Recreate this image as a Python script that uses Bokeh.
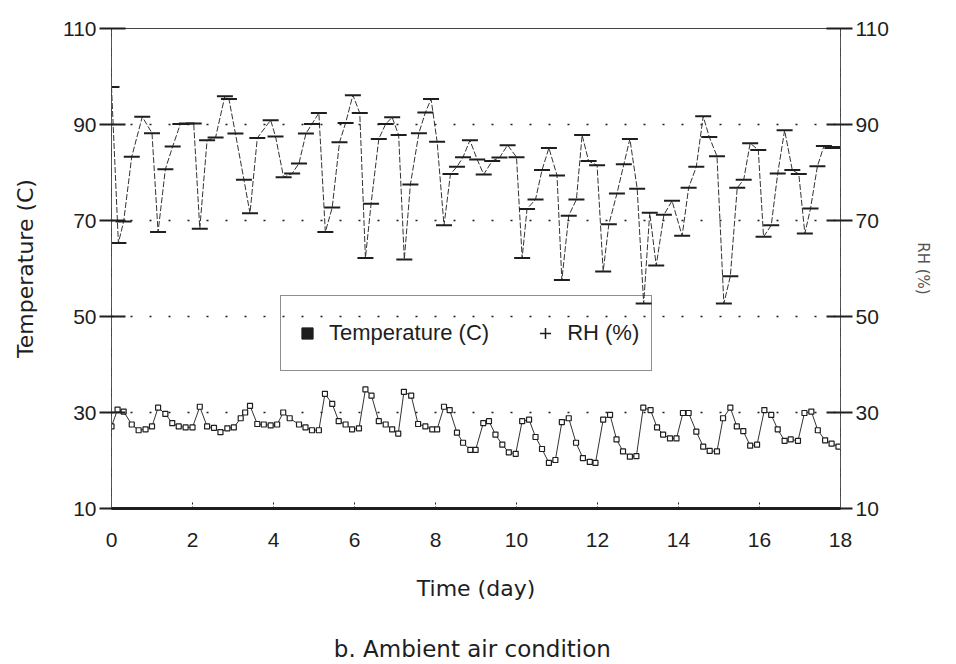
from bokeh.plotting import figure
from bokeh.models import LinearAxis, Range1d, Legend, LegendItem, FixedTicker
from bokeh.embed import file_html
from bokeh.resources import INLINE

# ---- data ----
x_ticks = [0, 2, 4, 6, 8, 10, 12, 14, 16, 18]
y_ticks = [10, 30, 50, 70, 90, 110]
grid_levels = [30, 50, 70, 90]

temp_day = [0.00, 0.15, 0.30, 0.50, 0.67, 0.84, 1.00, 1.15, 1.33, 1.50, 1.66, 1.83, 2.00,
            2.18, 2.36, 2.53, 2.69, 2.86, 3.02, 3.19, 3.30, 3.42, 3.60, 3.76, 3.93, 4.09,
            4.24, 4.40, 4.63, 4.79, 4.95, 5.12, 5.27, 5.45, 5.61, 5.78, 5.94, 6.11, 6.27,
            6.42, 6.60, 6.77, 6.93, 7.08, 7.22, 7.40, 7.57, 7.75, 7.92, 8.04, 8.21, 8.35,
            8.53, 8.68, 8.86, 8.99, 9.18, 9.32, 9.48, 9.65, 9.81, 9.98, 10.14, 10.31, 10.47,
            10.63, 10.80, 10.96, 11.12, 11.29, 11.47, 11.64, 11.81, 11.95, 12.14, 12.31,
            12.47, 12.63, 12.80, 12.96, 13.13, 13.31, 13.47, 13.62, 13.79, 13.95, 14.11,
            14.25, 14.44, 14.61, 14.77, 14.95, 15.10, 15.28, 15.44, 15.60, 15.77, 15.94,
            16.12, 16.29, 16.45, 16.62, 16.77, 16.95, 17.11, 17.28, 17.44, 17.62, 17.78, 17.95]
temp_val = [27.1, 30.6, 30.2, 27.5, 26.3, 26.5, 27.1, 31.0, 29.7, 27.8, 27.1, 26.9, 26.9,
            31.2, 27.1, 26.8, 25.9, 26.7, 26.9, 28.8, 30.0, 31.4, 27.6, 27.5, 27.3, 27.5,
            30.0, 28.8, 27.5, 26.9, 26.3, 26.3, 33.9, 31.8, 28.2, 27.5, 26.5, 26.7, 34.8,
            33.5, 28.2, 27.5, 26.5, 25.6, 34.3, 33.5, 27.6, 27.1, 26.5, 26.5, 31.2, 30.5,
            25.8, 23.7, 22.2, 22.2, 27.8, 28.2, 25.4, 23.3, 21.7, 21.4, 28.2, 28.5, 24.9,
            22.4, 19.5, 20.1, 28.0, 28.8, 23.7, 20.5, 19.7, 19.5, 28.5, 29.5,
            24.4, 21.9, 20.8, 20.9, 31.0, 30.5, 26.9, 25.4, 24.6, 24.6, 29.9,
            29.9, 26.0, 22.9, 22.0, 21.9, 28.8, 31.0, 27.1, 26.1, 23.1, 23.3,
            30.5, 29.5, 26.5, 24.1, 24.4, 24.1, 29.9, 30.2, 26.3, 24.2, 23.5, 22.9]

rh_day = [0.00, 0.17, 0.30, 0.50, 0.76, 1.00, 1.15, 1.33, 1.51, 1.70, 1.86, 2.03, 2.18,
          2.36, 2.57, 2.80, 2.90, 3.06, 3.27, 3.42, 3.60, 3.93, 4.05, 4.25, 4.46, 4.63,
          4.80, 4.95, 5.12, 5.28, 5.45, 5.63, 5.78, 5.96, 6.13, 6.27, 6.41, 6.60, 6.77,
          6.93, 7.09, 7.23, 7.38, 7.59, 7.75, 7.89, 8.04, 8.21, 8.37, 8.53, 8.68, 8.85,
          9.03, 9.19, 9.40, 9.58, 9.78, 10.00, 10.14, 10.26, 10.47, 10.63, 10.80, 11.00,
          11.12, 11.29, 11.48, 11.62, 11.78, 11.99, 12.14, 12.28, 12.48, 12.65, 12.80,
          12.98, 13.14, 13.29, 13.45, 13.64, 13.84, 14.09, 14.25, 14.44, 14.61, 14.76,
          14.95, 15.12, 15.28, 15.45, 15.61, 15.77, 15.97, 16.10, 16.29, 16.45, 16.62,
          16.81, 16.97, 17.12, 17.26, 17.43, 17.59, 17.80, 17.96]
rh_val = [97.8, 65.3, 69.8, 83.3, 91.6, 88.2, 67.6, 80.7, 85.4, 90.1, 90.2, 90.2, 68.3,
          86.7, 87.3, 95.9, 95.3, 88.1, 78.5, 71.5, 87.2, 90.9, 87.5, 79.0, 79.8, 81.9,
          88.1, 90.1, 92.4, 67.6, 72.7, 86.3, 90.3, 96.1, 92.4, 62.2, 73.5, 87.0, 90.1,
          91.5, 87.8, 61.9, 77.5, 88.2, 92.5, 95.3, 86.4, 69.0, 79.7, 81.2, 83.2, 86.7,
          82.7, 79.6, 82.4, 83.1, 85.7, 83.2, 62.2, 72.4, 74.4, 80.5, 85.1, 79.4,
          57.6, 71.0, 74.4, 87.8, 82.4, 81.5, 59.4, 69.2, 75.6, 81.7, 87.0,
          76.6, 52.7, 71.6, 60.6, 71.2, 74.1, 66.8, 76.8, 81.2, 91.7, 87.4,
          83.4, 52.7, 58.4, 76.8, 78.5, 86.1, 84.7, 66.6, 69.0, 79.8, 88.8,
          80.5, 79.7, 67.3, 72.5, 81.3, 85.5, 85.1, 85.3]

INK = "#1e1e1e"
TICK_FONT = "Liberation Sans"
TITLE_FONT = "DejaVu Sans"

p = figure(width=950, height=664, x_range=Range1d(0, 18), y_range=Range1d(10, 110),
           output_backend="svg", toolbar_location=None,
           min_border_left=111, min_border_right=110, min_border_top=28, min_border_bottom=156,
           background_fill_color="white", border_fill_color="white")

p.outline_line_color = "#444444"
p.outline_line_width = 1

# grid: dotted horizontal lines only
p.xgrid.visible = False
p.ygrid.ticker = FixedTicker(ticks=grid_levels)
p.ygrid.grid_line_color = INK
p.ygrid.grid_line_dash = "2 17"
p.ygrid.grid_line_width = 1.6

# bottom axis
xa = p.xaxis[0]
xa.ticker = FixedTicker(ticks=x_ticks)
xa.axis_line_width = 3
xa.axis_line_color = INK
xa.major_tick_in = 8
xa.major_tick_out = 0
xa.major_tick_line_dash = "2 2"
xa.major_tick_line_color = INK
xa.minor_tick_line_color = None
xa.major_label_standoff = 24
xa.major_label_text_font = TICK_FONT
xa.major_label_text_font_size = "21px"
xa.major_label_text_color = INK
xa.axis_label = "Time (day)"
xa.axis_label_text_font = TITLE_FONT
xa.axis_label_text_font_size = "22px"
xa.axis_label_text_font_style = "normal"
xa.axis_label_text_color = INK
xa.axis_label_standoff = 26

# caption, carried by a tick-less axis under the first one
cap = LinearAxis(ticker=FixedTicker(ticks=[]), axis_line_color=None,
                 major_tick_line_color=None, minor_tick_line_color=None,
                 axis_label="b.  Ambient air condition", axis_label_standoff=32,
                 axis_label_text_font=TITLE_FONT, axis_label_text_font_size="23px",
                 axis_label_text_font_style="normal", axis_label_text_color=INK)
p.add_layout(cap, "below")


def style_y(ax, label, size, color, standoff):
    ax.ticker = FixedTicker(ticks=y_ticks)
    ax.axis_line_color = "#555555"
    ax.axis_line_dash = "12 3 2 3"
    ax.major_tick_in = 14
    ax.major_tick_out = 12
    ax.major_tick_line_width = 2
    ax.major_tick_line_color = INK
    ax.minor_tick_line_color = None
    ax.major_label_standoff = 3
    ax.major_label_text_font = TICK_FONT
    ax.major_label_text_font_size = "21px"
    ax.major_label_text_color = INK
    ax.axis_label = label
    ax.axis_label_text_font = TITLE_FONT
    ax.axis_label_text_font_size = size
    ax.axis_label_text_font_style = "normal"
    ax.axis_label_text_color = color
    ax.axis_label_standoff = standoff


style_y(p.yaxis[0], "Temperature (C)", "22px", INK, 22)
ra = LinearAxis()
style_y(ra, "RH (%)", "15px", "#555555", 22)
p.add_layout(ra, "right")

# data
p.line(rh_day, rh_val, line_color="#333333", line_width=1, line_dash="6 2")
p.scatter(rh_day, rh_val, marker="dash", size=16, line_width=2, line_color=INK)
p.line(temp_day, temp_val, line_color="#333333", line_width=1)
p.scatter(temp_day, temp_val, marker="square", size=5, fill_color="white",
          line_color=INK, line_width=1.2)

# legend glyphs (renderers with no visible point)
nan = float("nan")
lt = p.scatter([nan], [nan], marker="square", size=10, fill_color=INK, line_color=INK)
lr = p.scatter([nan], [nan], marker="cross", size=14, line_color=INK, line_width=1.5)
legend = Legend(items=[LegendItem(label="Temperature (C)", renderers=[lt]),
                       LegendItem(label="RH (%)", renderers=[lr])],
                orientation="horizontal", location=(169, 137),
                padding=12, spacing=42, label_standoff=8,
                glyph_width=28, glyph_height=50, label_height=24,
                label_text_font=TICK_FONT, label_text_font_size="22px",
                label_text_color=INK, border_line_color=INK, border_line_width=1.5,
                background_fill_alpha=0, margin=0)
p.add_layout(legend, "center")

open("out.html", "w").write(file_html(p, INLINE))
